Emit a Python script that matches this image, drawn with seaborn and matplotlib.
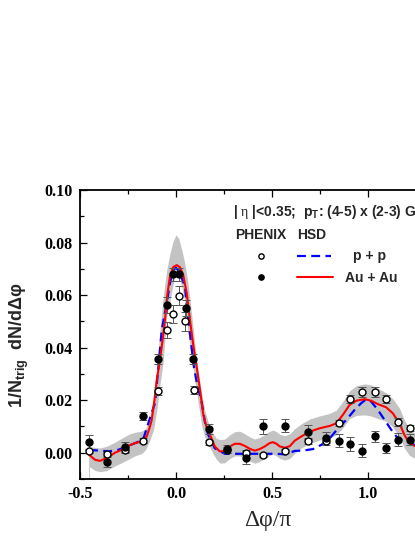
import numpy as np
import matplotlib
matplotlib.use("Agg")
import matplotlib.pyplot as plt
from matplotlib.ticker import MultipleLocator, FixedLocator, FormatStrFormatter
import seaborn as sns

# ---- data ----
# HSD Au+Au (red solid)
red_x = [-0.452, -0.42, -0.394, -0.36, -0.317, -0.282, -0.265, -0.213, -0.178, -0.152, -0.135, -0.126,
         -0.112, -0.100, -0.086, -0.071, -0.057, -0.045, -0.031, -0.014, 0.004, 0.021, 0.038, 0.056,
         0.073, 0.090, 0.107, 0.125, 0.142, 0.160, 0.176, 0.202, 0.228, 0.254, 0.280, 0.306, 0.332,
         0.358, 0.384, 0.410, 0.436, 0.462, 0.488, 0.505, 0.523, 0.540, 0.566, 0.592, 0.618, 0.652,
         0.695, 0.747, 0.800, 0.834, 0.868, 0.903, 0.938, 0.981, 1.015, 1.050, 1.093, 1.128, 1.162,
         1.188, 1.214, 1.240, 1.280]
red_y = [-0.0008, -0.0027, -0.0031, -0.0020, 0.0000, 0.0011, 0.0021, 0.0037, 0.0043, 0.0062, 0.0100, 0.0125,
         0.0200, 0.0275, 0.0340, 0.0420, 0.0505, 0.0600, 0.0672, 0.0707, 0.0714, 0.0706, 0.0676, 0.0607,
         0.0505, 0.0410, 0.0330, 0.0240, 0.0145, 0.0095, 0.0070, 0.0024, 0.0005, 0.0007, 0.0024, 0.0034, 0.0034,
         0.0026, 0.0015, 0.0008, 0.0014, 0.0024, 0.0037, 0.0040, 0.0034, 0.0024, 0.0019, 0.0025, 0.0046, 0.0062,
         0.0080, 0.0093, 0.0102, 0.0112, 0.0144, 0.0182, 0.0198, 0.0204, 0.0198, 0.0185, 0.0173, 0.0150, 0.0113,
         0.0068, 0.0037, 0.0026, 0.0024]

# HSD p+p (blue dashed)
blue_x = [-0.452, -0.400, -0.351, -0.300, -0.248, -0.204, -0.170, -0.152, -0.130, -0.109, -0.092, -0.074,
          -0.048, -0.031, -0.017, 0.000, 0.017, 0.047, 0.064, 0.081, 0.093, 0.110, 0.133, 0.150, 0.168,
          0.202, 0.254, 0.306, 0.410, 0.514, 0.570, 0.618, 0.661, 0.713, 0.756, 0.800, 0.843, 0.886,
          0.929, 0.964, 0.990, 1.015, 1.050, 1.085, 1.120, 1.154, 1.197, 1.240, 1.280]
blue_y = [0.0011, 0.0008, 0.0005, 0.0011, 0.0026, 0.0039, 0.0052, 0.0093, 0.0144, 0.0189, 0.0320, 0.0467,
          0.0569, 0.0645, 0.0695, 0.0704, 0.0690, 0.0632, 0.0505, 0.0404, 0.0328, 0.0260, 0.0195, 0.0120, 0.0068,
          0.0017, -0.0004, -0.0004, -0.0004, -0.0004, -0.0006, 0.0007, 0.0008, 0.0014, 0.0030, 0.0055, 0.0093, 0.0125,
          0.0163, 0.0189, 0.0204, 0.0195, 0.0163, 0.0125, 0.0087, 0.0055, 0.0043, 0.0030, 0.0028]

# HSD Au+Au uncertainty band (grey)
band_x = [-0.452, -0.42, -0.394, -0.36, -0.317, -0.282, -0.24, -0.213, -0.178, -0.16, -0.152, -0.135,
          -0.118, -0.11, -0.097, -0.083, -0.066, -0.048, -0.031, -0.015, 0.0, 0.015, 0.031, 0.045,
          0.06, 0.075, 0.09, 0.105, 0.12, 0.135, 0.15, 0.17, 0.19, 0.21, 0.23, 0.254, 0.28, 0.306,
          0.332, 0.358, 0.384, 0.41, 0.436, 0.462, 0.488, 0.505, 0.523, 0.54, 0.566, 0.592, 0.618,
          0.652, 0.695, 0.747, 0.8, 0.834, 0.868, 0.903, 0.938, 0.981, 1.015, 1.05, 1.093, 1.128,
          1.162, 1.188, 1.214, 1.24, 1.28]
band_hi = [0.0024, 0.0020, 0.0018, 0.0025, 0.0040, 0.0055, 0.0072, 0.0078, 0.0082, 0.0090, 0.0100, 0.0140,
           0.0200, 0.0260, 0.0340, 0.0467, 0.0594, 0.0695, 0.0759, 0.0805, 0.0829, 0.0815, 0.0770, 0.0725,
           0.0660, 0.0570, 0.0470, 0.0370, 0.0290, 0.0220, 0.0160, 0.0110, 0.0075, 0.0055, 0.0050, 0.0052,
           0.0068, 0.0080, 0.0082, 0.0072, 0.0060, 0.0052, 0.0058, 0.0070, 0.0082, 0.0086, 0.0080, 0.0070,
           0.0065, 0.0072, 0.0092, 0.0110, 0.0128, 0.0140, 0.0150, 0.0162, 0.0195, 0.0235, 0.0255, 0.0262,
           0.0258, 0.0245, 0.0228, 0.0205, 0.0170, 0.0125, 0.0090, 0.0075, 0.0070]
band_lo = [-0.0052, -0.0068, -0.0072, -0.0068, -0.0050, -0.0038, -0.0022, -0.0012, -0.0003, 0.0010, 0.0020, 0.0050,
           0.0085, 0.0115, 0.0175, 0.0260, 0.0350, 0.0520, 0.0580, 0.0640, 0.0690, 0.0680, 0.0630, 0.0580,
           0.0475, 0.0390, 0.0320, 0.0240, 0.0170, 0.0100, 0.0060, 0.0030, 0.0000, -0.0025, -0.0040, -0.0038,
           -0.0022, -0.0012, -0.0012, -0.0020, -0.0032, -0.0040, -0.0033, -0.0022, -0.0010, -0.0006, -0.0012, -0.0022,
           -0.0028, -0.0022, -0.0002, 0.0018, 0.0035, 0.0048, 0.0058, 0.0068, 0.0095, 0.0130, 0.0142, 0.0144,
           0.0140, 0.0130, 0.0120, 0.0098, 0.0060, 0.0018, -0.0010, -0.0020, -0.0022]

# PHENIX p+p (open circles)
pp_x = [-0.450, -0.360, -0.263, -0.170, -0.092, -0.046, -0.016, 0.017, 0.048, 0.095, 0.173, 0.266,
        0.363, 0.453, 0.566, 0.687, 0.778, 0.846, 0.903, 0.965, 1.033, 1.093, 1.156, 1.218]
pp_y = [0.0008, -0.0004, 0.0010, 0.0046, 0.0235, 0.0466, 0.0527, 0.0598, 0.0500, 0.0240, 0.0039, 0.0010,
        0.0000, -0.0008, 0.0008, 0.0043, 0.0046, 0.0113, 0.0205, 0.0232, 0.0232, 0.0206, 0.0117, 0.0093]
pp_err = [0.0008, 0.0008, 0.0010, 0.0010, 0.0015, 0.0030, 0.0035, 0.0035, 0.0035, 0.0015, 0.0010, 0.0010,
          0.0010, 0.0008, 0.0008, 0.0010, 0.0010, 0.0012, 0.0015, 0.0018, 0.0018, 0.0015, 0.0015, 0.0012]

# PHENIX Au+Au (filled circles)
aa_x = [-0.451, -0.360, -0.264, -0.170, -0.092, -0.048, -0.016, 0.017, 0.050, 0.090, 0.173, 0.266,
        0.363, 0.453, 0.566, 0.687, 0.778, 0.846, 0.907, 0.968, 1.033, 1.093, 1.156, 1.218]
aa_y = [0.0039, -0.0036, 0.0021, 0.0140, 0.0356, 0.0562, 0.0679, 0.0679, 0.0550, 0.0356, 0.0090, 0.0014,
        -0.0019, 0.0100, 0.0102, 0.0080, 0.0055, 0.0045, 0.0033, 0.0008, 0.0062, 0.0018, 0.0050, 0.0050]
aa_err = [0.0030, 0.0020, 0.0020, 0.0015, 0.0020, 0.0030, 0.0025, 0.0025, 0.0030, 0.0020, 0.0018, 0.0015,
          0.0025, 0.0030, 0.0025, 0.0025, 0.0025, 0.0025, 0.0025, 0.0025, 0.0020, 0.0020, 0.0025, 0.0020]

x_ticks = [-0.5, 0.0, 0.5, 1.0]

# ---- style ----
sns.set_theme(style="ticks")
plt.rcParams["font.family"] = ["Liberation Sans", "DejaVu Sans"]
plt.rcParams["mathtext.fontset"] = "custom"
plt.rcParams["mathtext.bf"] = "Liberation Sans:bold"
plt.rcParams["mathtext.rm"] = "Liberation Sans:bold"
plt.rcParams["mathtext.sf"] = "Liberation Serif"
plt.rcParams["axes.unicode_minus"] = False

fig = plt.figure(figsize=(4.15, 5.37), dpi=100)
ax = fig.add_axes([0.1923, 0.108, 0.9267, 0.5382])

ax.fill_between(band_x, band_lo, band_hi, color="#c3c3c3", lw=0, zorder=1)
ax.plot([band_x[0], band_x[0]], [band_lo[0] + 0.004, -0.01], color="#cfcfcf", lw=0.8, zorder=1)

sns.lineplot(x=blue_x, y=blue_y, ax=ax, color="#0000ff", lw=1.6, sort=False, estimator=None,
             zorder=3).lines[-1].set_dashes((4, 2.4))
sns.lineplot(x=red_x, y=red_y, ax=ax, color="#ff0000", lw=1.5, sort=False, estimator=None, zorder=4)

err_kw = dict(fmt="none", ecolor="#555555", elinewidth=0.7, capsize=2.6, capthick=0.7, zorder=5)
ax.errorbar(pp_x, pp_y, yerr=pp_err, **err_kw)
ax.errorbar(aa_x, aa_y, yerr=aa_err, **err_kw)
ax.plot(pp_x, pp_y, "o", ms=5, mfc="white", mec="black", mew=1.0, zorder=6)
ax.plot(aa_x, aa_y, "o", ms=5, mfc="black", mec="black", mew=1.0, zorder=6)

# axes
ax.set_xlim(-0.5, 1.5)
ax.set_ylim(-0.01, 0.10)
ax.xaxis.set_major_locator(FixedLocator(x_ticks))
ax.xaxis.set_minor_locator(MultipleLocator(0.25))
ax.yaxis.set_major_locator(MultipleLocator(0.02))
ax.yaxis.set_minor_locator(MultipleLocator(0.01))
ax.xaxis.set_major_formatter(FormatStrFormatter("%.1f"))
ax.yaxis.set_major_formatter(FormatStrFormatter("%.2f"))
ax.tick_params(which="both", direction="in", top=True, right=True, width=0.9, colors="black")
ax.tick_params(which="major", length=5, pad=5)
ax.tick_params(which="minor", length=3)
for lab in ax.get_xticklabels() + ax.get_yticklabels():
    lab.set_fontfamily("Liberation Serif")
    lab.set_fontweight("bold")
    lab.set_fontsize(11.5)
for sp in ax.spines.values():
    sp.set_linewidth(1.3)
    sp.set_color("black")

ax.set_xlabel("Δφ/π", family="Liberation Serif", fontsize=17, va="center")
ax.xaxis.set_label_coords(0.489, -0.142)
ax.set_ylabel(r"1/N$_{\mathbf{trig}}$  dN/dΔφ", fontsize=13, fontweight="bold", va="center", ha="center")
ax.yaxis.set_label_coords(-0.158, 0.464)

# legend block
tk = dict(transform=ax.transAxes, fontsize=10, fontweight="bold", va="center", ha="left")
ax.text(0.399, 0.925, r"| $\mathsf{η}$ |<0.35;  p$_{\mathbf{T}}$: (4-5) x (2-3) GeV/c", **tk)
ax.text(0.4035, 0.844, "PHENIX", **tk)
ax.text(0.564, 0.844, "HSD", **tk)
ax.plot([0.471], [0.772], "o", ms=3.8, mfc="white", mec="black", mew=1.0, transform=ax.transAxes)
ax.plot([0.564, 0.652], [0.772, 0.772], color="#0000ff", lw=1.6, dashes=(4, 2.4), transform=ax.transAxes)
ax.text(0.7096, 0.770, "p + p", **tk)
ax.plot([0.471], [0.700], "o", ms=3.8, mfc="black", mec="black", mew=1.0, transform=ax.transAxes)
ax.plot([0.564, 0.658], [0.700, 0.700], color="#ff0000", lw=1.5, transform=ax.transAxes)
ax.text(0.6896, 0.697, "Au + Au", **tk)

fig.savefig("out.png", dpi=100)
